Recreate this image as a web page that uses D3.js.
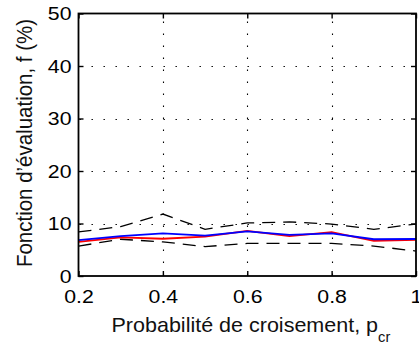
<!DOCTYPE html>
<html>
<head>
<meta charset="utf-8">
<script src="https://cdn.jsdelivr.net/npm/d3@7"></script>
<style>
  html, body { margin: 0; padding: 0; background: #fff; }
  svg { display: block; font-family: "Liberation Sans", Arial, Helvetica, sans-serif; }
</style>
</head>
<body>
<svg id="chart" width="419" height="345"></svg>
<script>
// Crossover probability values
const pcr = [0.2, 0.3, 0.4, 0.5, 0.6, 0.7, 0.8, 0.9, 1.0];
// Evaluation function f (%) — two mean curves and the dashed envelope
const meanBlue  = [6.85, 7.6, 8.1, 7.7, 8.5, 7.85, 8.1, 7.0, 7.05];
const meanRed   = [6.5, 7.35, 7.1, 7.5, 8.6, 7.6, 8.35, 6.7, 6.9];
const upperBand = [8.4, 9.4, 11.8, 8.9, 10.1, 10.3, 9.9, 8.9, 9.9];
const lowerBand = [5.7, 7.0, 6.5, 5.6, 6.2, 6.2, 6.2, 5.7, 4.75];
const xTicks = [0.2, 0.4, 0.6, 0.8, 1];
const yTicks = [0, 10, 20, 30, 40, 50];

const svg = d3.select("#chart");
const plotLeft = 78.5, plotRight = 416, plotTop = 13.5, plotBottom = 276;
const tickStretch = 1.12, labelStretch = 1.05;   // wide glyphs
const tickFont = 19, labelFont = 20.5;

const x = d3.scaleLinear().domain([0.2, 1]).range([plotLeft, plotRight]);
const y = d3.scaleLinear().domain([0, 50]).range([plotBottom, plotTop]);

// dotted grid
const grid = svg.append("g").attr("stroke", "#000").attr("stroke-width", 1.1)
  .attr("stroke-dasharray", "1.4,10.6").attr("stroke-dashoffset", -1);
grid.selectAll("line.gx").data(xTicks.slice(1, -1)).join("line")
  .attr("x1", d => Math.round(x(d)) + 0.5).attr("x2", d => Math.round(x(d)) + 0.5)
  .attr("y1", plotBottom).attr("y2", plotTop);
grid.selectAll("line.gy").data(yTicks.slice(1, -1)).join("line")
  .attr("y1", d => Math.round(y(d)) + 0.5).attr("y2", d => Math.round(y(d)) + 0.5)
  .attr("x1", plotLeft).attr("x2", plotRight);

// series lines
const line = d3.line().x((d, i) => x(pcr[i])).y(d => y(d));
[upperBand, lowerBand].forEach(band => {
  svg.append("path").datum(band).attr("d", line)
    .attr("fill", "none").attr("stroke", "#000").attr("stroke-width", 1.3)
    .attr("stroke-dasharray", "13,8");
});
svg.append("path").datum(meanRed).attr("d", line)
  .attr("fill", "none").attr("stroke", "#ff0000").attr("stroke-width", 1.8);
svg.append("path").datum(meanBlue).attr("d", line)
  .attr("fill", "none").attr("stroke", "#0000ff").attr("stroke-width", 1.8);

// axes with inward ticks on all four sides
const tickLen = 5;
const axB = svg.append("g").attr("transform", `translate(0,${plotBottom})`)
  .call(d3.axisBottom(x).tickValues(xTicks).tickSize(-tickLen).tickPadding(14)
    .tickFormat(d => d === 1 ? "1" : d3.format(".1f")(d)));
const axT = svg.append("g").attr("transform", `translate(0,${plotTop})`)
  .call(d3.axisTop(x).tickValues(xTicks).tickSize(-tickLen).tickFormat(""));
const axL = svg.append("g").attr("transform", `translate(${plotLeft},0)`)
  .call(d3.axisLeft(y).tickValues(yTicks).tickSize(-tickLen).tickPadding(7));
const axR = svg.append("g").attr("transform", `translate(${plotRight},0)`)
  .call(d3.axisRight(y).tickValues(yTicks).tickSize(-tickLen).tickFormat(""));

[axB, axT, axL, axR].forEach(a => {
  a.select(".domain").remove();
  a.selectAll("line").attr("stroke", "#000").attr("stroke-width", 1.4);
  a.selectAll("text").each(function () {
    const t = d3.select(this);
    const tx = +t.attr("x") || 0;
    t.attr("x", 0).attr("transform", `translate(${tx},0) scale(${tickStretch},1)`)
      .attr("fill", "#000").style("font-size", tickFont + "px")
      .style("font-family", "'Liberation Sans', Arial, sans-serif");
  });
});

// box frame
svg.append("rect").attr("x", plotLeft).attr("y", plotTop)
  .attr("width", plotRight - plotLeft).attr("height", plotBottom - plotTop)
  .attr("fill", "none").attr("stroke", "#000").attr("stroke-width", 1.8);

// axis titles
const xl = svg.append("text")
  .attr("transform", `translate(111.5,331.5) scale(${labelStretch},1)`)
  .style("font-size", labelFont + "px").attr("fill", "#111");
xl.append("tspan").text("Probabilité de croisement, p");
xl.append("tspan").attr("dy", 10).style("font-size", "14px").text("cr");

svg.append("text")
  .attr("transform", `translate(32,143) scale(${labelStretch},1) rotate(-90)`)
  .attr("text-anchor", "middle").style("font-size", labelFont + "px").attr("fill", "#111")
  .text("Fonction d’évaluation, f (%)");
</script>
</body>
</html>
